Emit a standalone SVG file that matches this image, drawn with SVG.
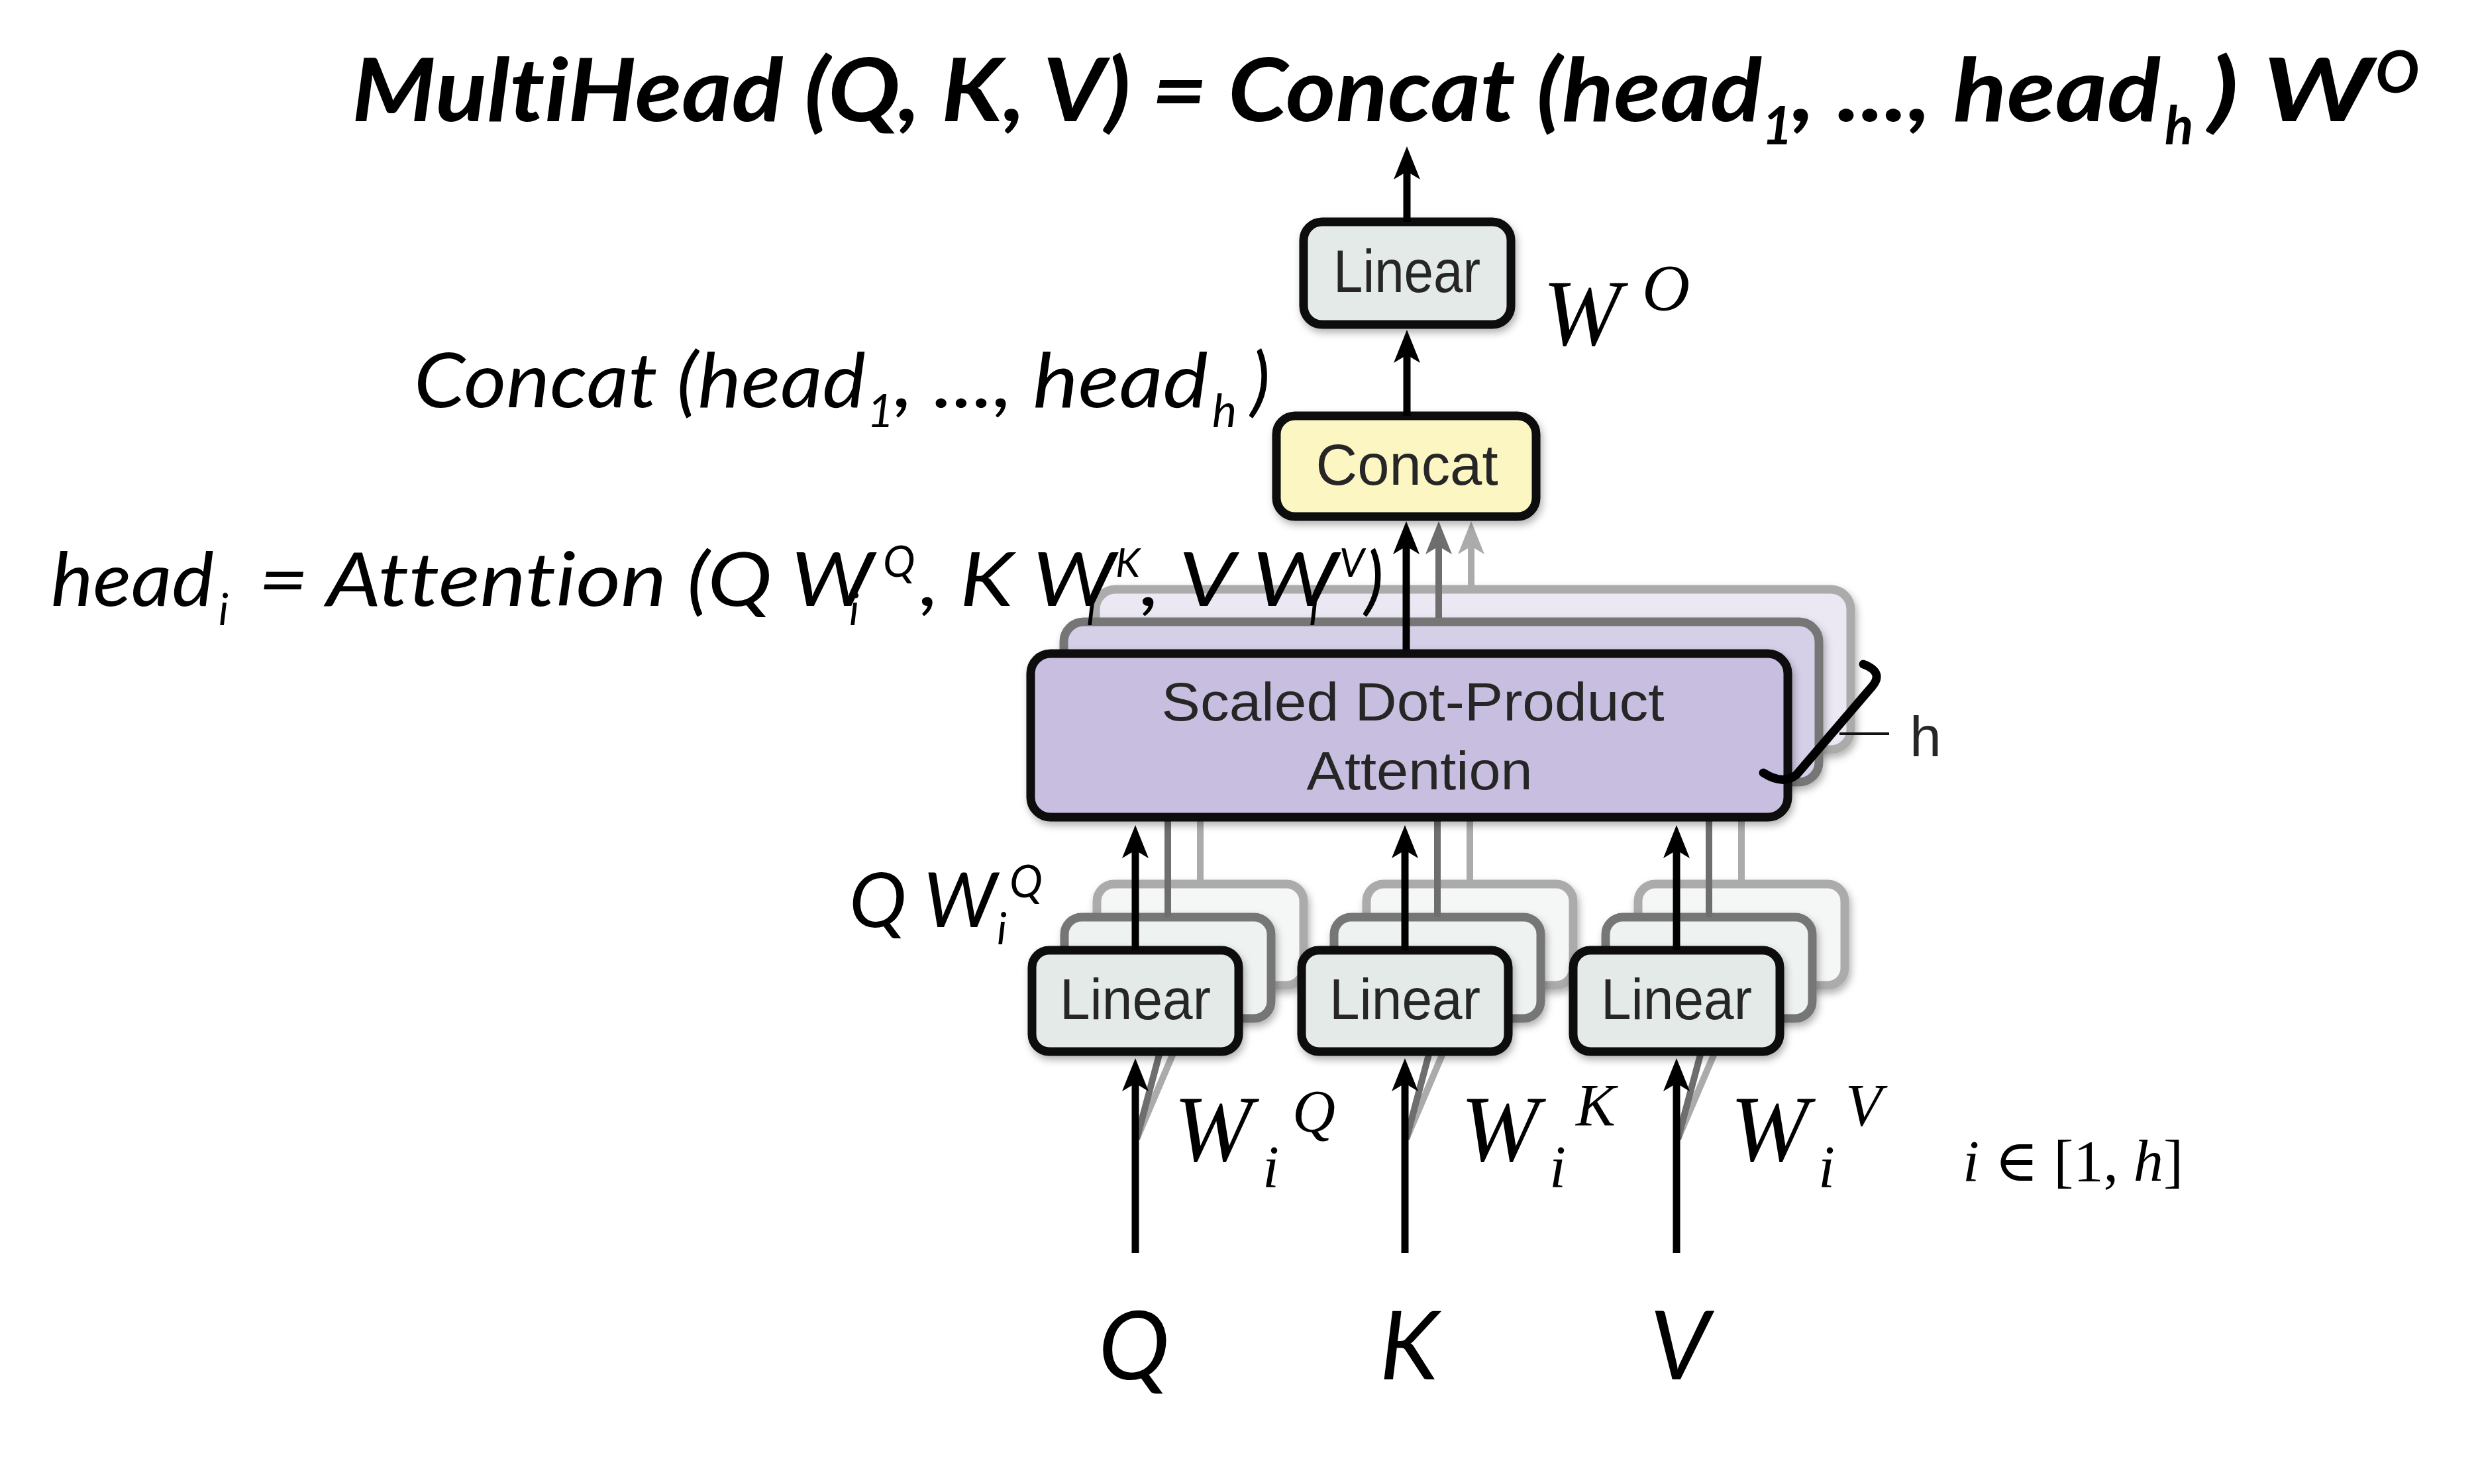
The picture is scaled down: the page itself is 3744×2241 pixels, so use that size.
<svg xmlns="http://www.w3.org/2000/svg" width="3744" height="2241" viewBox="0 0 3744 2241">
<defs>
<style>
text{font-variant-ligatures:none;font-feature-settings:"liga" 0,"clig" 0}
.bx{stroke-width:13}
.front{stroke:#0a0a0a}
.mid{stroke:#767676}
.back{stroke:#ababab}
.lin{fill:#e3eae7}
.lin2{fill:#eef2f0}
.lin3{fill:#f5f7f6}
.att{fill:#c8bfe0}
.att2{fill:#d5cfe8}
.att3{fill:#ebe8f4}
.cat{fill:#fbf6c2}
.lbl{font-family:"Liberation Sans",Arial,sans-serif;fill:#262626;text-anchor:middle}
.cal{font-family:Lato,"Open Sans",sans-serif;font-style:italic;fill:#000}
.calb{font-family:Lato,"Open Sans",sans-serif;font-style:italic;font-weight:bold;fill:#000}
.math{font-family:"Liberation Serif","DejaVu Serif",serif;font-style:italic;fill:#000}
.up{font-style:normal}
.c-black{stroke:#000;stroke-width:11;fill:none}
.c-dark{stroke:#6e6e6e;stroke-width:10;fill:none}
.c-light{stroke:#ababab;stroke-width:10;fill:none}
</style>
<marker id="ah-black" viewBox="0 0 50 40" refX="20" refY="20" markerWidth="50" markerHeight="40" markerUnits="userSpaceOnUse" orient="auto"><path d="M0,0 L50,20 L0,40 L12,20 Z" fill="#000"/></marker>
<marker id="ah-dark" viewBox="0 0 50 40" refX="20" refY="20" markerWidth="50" markerHeight="40" markerUnits="userSpaceOnUse" orient="auto"><path d="M0,0 L50,20 L0,40 L12,20 Z" fill="#6e6e6e"/></marker>
<marker id="ah-light" viewBox="0 0 50 40" refX="20" refY="20" markerWidth="50" markerHeight="40" markerUnits="userSpaceOnUse" orient="auto"><path d="M0,0 L50,20 L0,40 L12,20 Z" fill="#ababab"/></marker>
<filter id="sh" x="-10%" y="-20%" width="130%" height="150%"><feDropShadow dx="3" dy="6" stdDeviation="6" flood-color="#000" flood-opacity="0.3"/></filter>
</defs>
<rect width="3744" height="2241" fill="#fff"/>

<!-- title -->
<g id="title">
<text class="calb" x="531" y="183" font-size="132" textLength="2129" lengthAdjust="spacingAndGlyphs">MultiHead (Q, K, V) = Concat (head</text>
<text class="calb" x="2660" y="218" font-size="80">1</text>
<text class="calb" x="2705" y="183" font-size="132" textLength="557" lengthAdjust="spacingAndGlyphs">, ..., head</text>
<text class="calb" x="3268" y="218" font-size="80">h</text>
<text class="calb" x="3334" y="183" font-size="132" textLength="248" lengthAdjust="spacingAndGlyphs">) W</text>
<text class="calb" x="3586" y="140" font-size="88">O</text>
</g>

<!-- back layers of attention stack -->
<g id="attention-stack-back">
<rect class="bx back att3" x="1654" y="890" width="1140" height="242" rx="30" filter="url(#sh)"/>
<rect class="bx mid att2" x="1606" y="939" width="1140" height="242" rx="30" filter="url(#sh)"/>
</g>

<!-- back layers of linear stacks -->
<g id="linear-stacks-back">
<rect class="bx back lin3" x="1656" y="1335" width="312" height="153" rx="26" filter="url(#sh)"/>
<rect class="bx back lin3" x="2063" y="1335" width="312" height="153" rx="26" filter="url(#sh)"/>
<rect class="bx back lin3" x="2473" y="1335" width="312" height="153" rx="26" filter="url(#sh)"/>
<rect class="bx mid lin2" x="1607" y="1385" width="312" height="153" rx="26" filter="url(#sh)"/>
<rect class="bx mid lin2" x="2014" y="1385" width="312" height="153" rx="26" filter="url(#sh)"/>
<rect class="bx mid lin2" x="2424" y="1385" width="312" height="153" rx="26" filter="url(#sh)"/>
</g>

<!-- connectors (back layers) -->
<g id="connectors">
<path class="c-light" d="M1716,1720 L1812,1495"/>
<path class="c-dark" d="M1716,1720 L1763,1544"/>
<path class="c-light" d="M2123,1720 L2219,1495"/>
<path class="c-dark" d="M2123,1720 L2170,1544"/>
<path class="c-light" d="M2533,1720 L2629,1495"/>
<path class="c-dark" d="M2533,1720 L2580,1544"/>
<path class="c-light" d="M1812,1335 L1812,1140"/>
<path class="c-dark" d="M1763,1385 L1763,1190"/>
<path class="c-light" d="M2219,1335 L2219,1140"/>
<path class="c-dark" d="M2170,1385 L2170,1190"/>
<path class="c-light" d="M2629,1335 L2629,1140"/>
<path class="c-dark" d="M2580,1385 L2580,1190"/>
<path class="c-light" d="M2221,884 L2221,817" marker-end="url(#ah-light)"/>
<path class="c-dark" d="M2172,933 L2172,817" marker-end="url(#ah-dark)"/>
</g>

<g id="node-attention">
<rect class="bx front att" x="1556" y="987" width="1143" height="247" rx="30" filter="url(#sh)"/>
<text class="lbl" x="2133" y="1088" font-size="82" textLength="759" lengthAdjust="spacingAndGlyphs">Scaled Dot-Product</text>
<text class="lbl" x="2143" y="1192" font-size="82" textLength="341" lengthAdjust="spacingAndGlyphs">Attention</text>
</g>

<g id="h-loop">
<path d="M2813,1003 Q2845,1015 2826,1037 L2712,1170 Q2692,1186 2662,1167" fill="none" stroke="#000" stroke-width="13" stroke-linecap="round"/>
<path d="M2777,1108 L2852,1108" stroke="#111" stroke-width="4"/>
<text x="2883" y="1142" font-family="Liberation Sans,Arial,sans-serif" font-size="86" fill="#262626">h</text>
</g>

<g id="node-linear-q">
<rect class="bx front lin" x="1558" y="1435" width="312" height="153" rx="26" filter="url(#sh)"/>
<text class="lbl" x="1714" y="1539" font-size="88" textLength="228" lengthAdjust="spacingAndGlyphs">Linear</text>
</g>
<g id="node-linear-k">
<rect class="bx front lin" x="1965" y="1435" width="312" height="153" rx="26" filter="url(#sh)"/>
<text class="lbl" x="2121" y="1539" font-size="88" textLength="228" lengthAdjust="spacingAndGlyphs">Linear</text>
</g>
<g id="node-linear-v">
<rect class="bx front lin" x="2375" y="1435" width="312" height="153" rx="26" filter="url(#sh)"/>
<text class="lbl" x="2531" y="1539" font-size="88" textLength="228" lengthAdjust="spacingAndGlyphs">Linear</text>
</g>

<g id="node-concat">
<rect class="bx front cat" x="1927" y="628" width="392" height="152" rx="28" filter="url(#sh)"/>
<text class="lbl" x="2124" y="732" font-size="88" textLength="275" lengthAdjust="spacingAndGlyphs">Concat</text>
</g>

<g id="node-linear-out">
<rect class="bx front lin" x="1968" y="335" width="313" height="155" rx="28" filter="url(#sh)"/>
<text class="lbl" x="2124" y="441" font-size="90" textLength="222" lengthAdjust="spacingAndGlyphs">Linear</text>
</g>

<g id="connectors-main">
<path class="c-black" d="M2124,335 L2124,251" marker-end="url(#ah-black)"/>
<path class="c-black" d="M2124,628 L2124,528" marker-end="url(#ah-black)"/>
<path class="c-black" d="M2123,981 L2123,817" marker-end="url(#ah-black)"/>
<path class="c-black" d="M1714,1435 L1714,1276" marker-end="url(#ah-black)"/>
<path class="c-black" d="M2121,1435 L2121,1276" marker-end="url(#ah-black)"/>
<path class="c-black" d="M2531,1435 L2531,1276" marker-end="url(#ah-black)"/>
<path class="c-black" d="M1714,1892 L1714,1628" marker-end="url(#ah-black)"/>
<path class="c-black" d="M2121,1892 L2121,1628" marker-end="url(#ah-black)"/>
<path class="c-black" d="M2531,1892 L2531,1628" marker-end="url(#ah-black)"/>
</g>

<g id="label-wo">
<text class="math" x="2329" y="521" font-size="142">W</text>
<text class="math" x="2479" y="468" font-size="100">O</text>
</g>

<g id="label-concat">
<text class="cal" x="625" y="615" font-size="114" textLength="682" lengthAdjust="spacingAndGlyphs">Concat (head</text>
<text class="cal" x="1309" y="645" font-size="70">1</text>
<text class="cal" x="1350" y="615" font-size="114" textLength="474" lengthAdjust="spacingAndGlyphs">, ..., head</text>
<text class="cal" x="1830" y="645" font-size="70">h</text>
<text class="cal" x="1888" y="615" font-size="114">)</text>
</g>

<g id="label-head">
<text class="cal" x="77" y="915" font-size="112" textLength="246" lengthAdjust="spacingAndGlyphs">head</text>
<text class="cal" x="330" y="944" font-size="65">i</text>
<text class="cal" x="390" y="915" font-size="112" textLength="929" lengthAdjust="spacingAndGlyphs">= Attention (Q W</text>
<text class="cal" x="1282" y="944" font-size="65">i</text>
<text class="cal" x="1333" y="871" font-size="65">Q</text>
<text class="cal" x="1389" y="915" font-size="112" textLength="295" lengthAdjust="spacingAndGlyphs">, K W</text>
<text class="cal" x="1640" y="944" font-size="65">i</text>
<text class="cal" x="1684" y="871" font-size="60">K</text>
<text class="cal" x="1722" y="915" font-size="112" textLength="298" lengthAdjust="spacingAndGlyphs">, V W</text>
<text class="cal" x="1976" y="944" font-size="65">i</text>
<text class="cal" x="2022" y="871" font-size="60">V</text>
<text class="cal" x="2060" y="915" font-size="112">)</text>
</g>

<g id="label-qwq">
<text class="cal" x="1282" y="1400" font-size="115" textLength="223" lengthAdjust="spacingAndGlyphs">Q W</text>
<text class="cal" x="1505" y="1426" font-size="65">i</text>
<text class="cal" x="1524" y="1355" font-size="67">Q</text>
</g>

<g id="label-weights">
<text class="math" x="1772" y="1753" font-size="142">W</text>
<text class="math" x="1906" y="1793" font-size="90">i</text>
<text class="math" x="1951" y="1709" font-size="90">Q</text>
<text class="math" x="2205" y="1753" font-size="142">W</text>
<text class="math" x="2339" y="1793" font-size="90">i</text>
<text class="math" x="2379" y="1700" font-size="90">K</text>
<text class="math" x="2612" y="1753" font-size="142">W</text>
<text class="math" x="2745" y="1793" font-size="90">i</text>
<text class="math" x="2786" y="1700" font-size="90">V</text>
<text class="math up" x="2963" y="1783" font-size="88" textLength="333" lengthAdjust="spacingAndGlyphs"><tspan style="font-style:italic">i</tspan> ∈ [1, <tspan style="font-style:italic">h</tspan>]</text>
</g>

<g id="inputs">
<text class="cal" x="1712" y="2083" font-size="144" text-anchor="middle">Q</text>
<text class="cal" x="2127" y="2083" font-size="144" text-anchor="middle">K</text>
<text class="cal" x="2536" y="2083" font-size="144" text-anchor="middle">V</text>
</g>
</svg>
